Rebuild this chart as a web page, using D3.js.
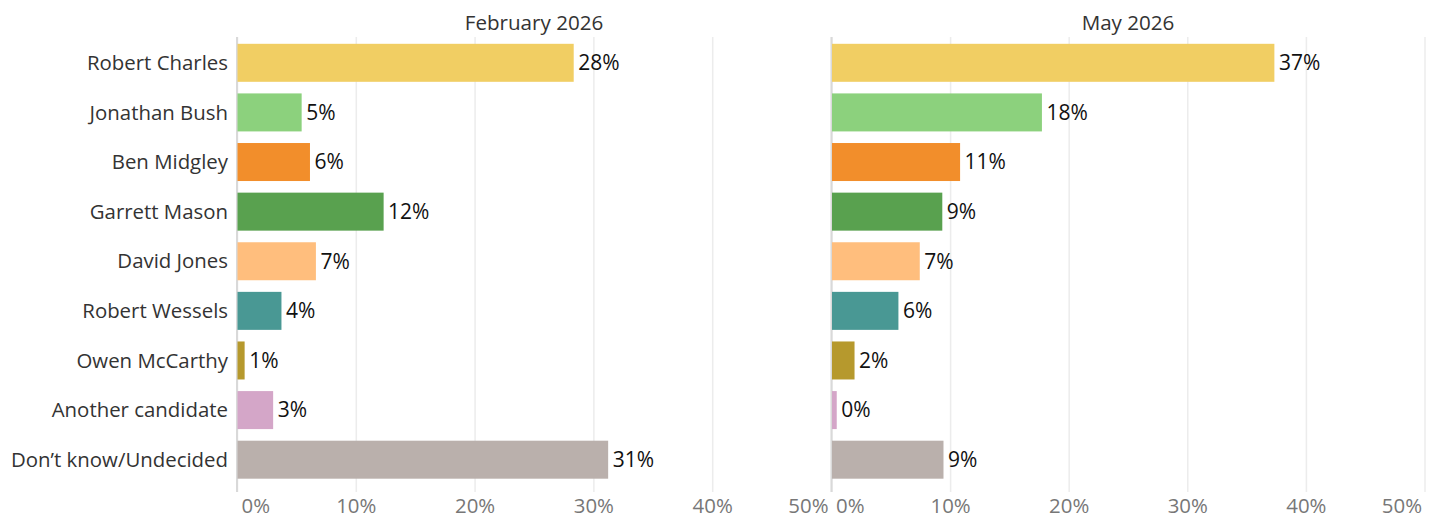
<!DOCTYPE html>
<html><head><meta charset="utf-8">
<script src="https://cdn.jsdelivr.net/npm/d3@7"></script>
<style>
body{margin:0;background:#fff;}
text{font-family:"Open Sans",sans-serif;}
</style></head>
<body>
<svg id="chart" width="1436" height="519"></svg>
<script>
const categories = ["Robert Charles","Jonathan Bush","Ben Midgley","Garrett Mason","David Jones","Robert Wessels","Owen McCarthy","Another candidate","Don\u2019t know/Undecided"];
const colors = ["#f1ce63","#8cd17d","#f28e2b","#59a14f","#ffbe7d","#499894","#b6992d","#d4a6c8","#bab0ac"];
const panelTitles = ["February 2026","May 2026"];
const febValues = [28.3, 5.4, 6.1, 12.3, 6.6, 3.7, 0.6, 3.0, 31.2];
const mayValues = [37.3, 17.7, 10.8, 9.3, 7.4, 5.6, 1.9, 0.4, 9.4];
const tickValues = [0,10,20,30,40,50];

const svg = d3.select("#chart");
const y = d3.scaleBand().domain(categories).range([38, 484.5]).paddingInner(0.234).paddingOuter(0.117);
const gridTop = 37, gridBottom = 492;

const panels = [
  {title: panelTitles[0], values: febValues, range: [237, 831]},
  {title: panelTitles[1], values: mayValues, range: [831.5, 1424.5]}
];

svg.append("g").selectAll("text").data(categories).join("text")
  .attr("x", 228).attr("y", d => y(d) + y.bandwidth()/2).attr("dy", "0.35em")
  .attr("text-anchor", "end").attr("fill", "#333").style("font-size", "20.4px")
  .text(d => d);

panels.forEach(p => {
  const x = d3.scaleLinear().domain([0, 50]).range(p.range);
  const g = svg.append("g");
  const ax = g.append("g").attr("transform", `translate(0,${gridBottom})`)
    .call(d3.axisBottom(x).tickValues(tickValues).tickFormat(d => d + "%").tickSize(-(gridBottom - gridTop)));
  ax.select(".domain").remove();
  ax.selectAll(".tick line").attr("stroke", "#ececec").attr("stroke-width", 1.5);
  ax.selectAll(".tick text")
    .attr("y", 21).attr("dy", 0)
    .attr("fill", "#777").style("font-size", "20.4px")
    .attr("text-anchor", (d, i) => i === 0 ? "start" : (i === tickValues.length - 1 ? "end" : "middle"))
    .attr("x", (d, i) => i === 0 ? 4 : (i === tickValues.length - 1 ? -3 : 0));
  g.append("line").attr("x1", x(0)).attr("x2", x(0)).attr("y1", gridTop).attr("y2", gridBottom)
    .attr("stroke", "#d9d9d9").attr("stroke-width", 2);
  g.append("g").selectAll("rect").data(p.values).join("rect")
    .attr("x", x(0) + 0.5).attr("y", (d, i) => y(categories[i]))
    .attr("width", d => x(d) - x(0)).attr("height", y.bandwidth())
    .attr("fill", (d, i) => colors[i]);
  g.append("g").selectAll("text").data(p.values).join("text")
    .attr("x", d => x(d) + 5).attr("y", (d, i) => y(categories[i]) + y.bandwidth()/2).attr("dy", "0.35em")
    .attr("fill", "#111").style("font-size", "21px")
    .text(d => Math.round(d) + "%");
  g.append("text").attr("x", (p.range[0] + p.range[1]) / 2).attr("y", 30)
    .attr("text-anchor", "middle").attr("fill", "#333").style("font-size", "20.6px")
    .text(p.title);
});
</script></body></html>
